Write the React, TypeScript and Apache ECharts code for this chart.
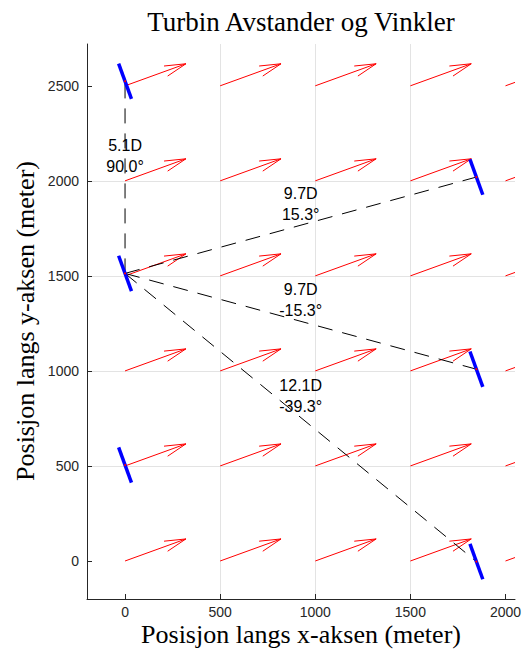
import React, { useEffect, useRef } from 'react';
import * as echarts from 'echarts';

// Axis ticks
const xTicks = [0, 500, 1000, 1500, 2000];
const yTicks = [0, 500, 1000, 1500, 2000, 2500];

// Wind field (quiver) grid and vector
const windX = [0, 500, 1000, 1500, 2000];
const windY = [0, 500, 1000, 1500, 2000, 2500];
const windU = 320;
const windV = 116;

// Turbines (hub positions, metres) and rotor diameter
const turbineX = [0, 0, 0, 1847, 1847, 1847];
const turbineY = [505, 1513, 2524, 2020, 1009, -3];
const rotorD = 198;

// Links between turbines with labels
const linkFrom = [1, 1, 1, 1];
const linkTo = [2, 3, 4, 5];
const linkDist = ['5.1D', '9.7D', '9.7D', '12.1D'];
const linkAngle = ['90.0°', '15.3°', '-15.3°', '-39.3°'];

const SANS = '"Liberation Sans", Arial, Helvetica, sans-serif';
const SERIF = '"Liberation Serif", "Times New Roman", serif';
const AXIS_COLOR = '#262626';

export default function App() {
  const ref = useRef<HTMLDivElement>(null);

  useEffect(() => {
    if (!ref.current) return;
    const chart = echarts.init(ref.current, undefined, { renderer: 'svg' });

    const arrowData: number[][] = [];
    windX.forEach((x) => windY.forEach((y) => arrowData.push([x, y, windU, windV])));
    const turbineData = turbineX.map((x, i) => [x, turbineY[i]]);
    const linkData = linkFrom.map((f, i) => [
      turbineX[f], turbineY[f], turbineX[linkTo[i]], turbineY[linkTo[i]], i,
    ]);
    const windAng = Math.atan2(windV, windU);
    const rx = (rotorD / 2) * Math.sin(windAng);
    const ry = -(rotorD / 2) * Math.cos(windAng);
    const plain = (v: number) => String(v);

    const option: any = {
      animation: false,
      grid: { left: 87, right: 8, top: 44, bottom: 55, outerBoundsMode: 'none' },
      xAxis: {
        type: 'value',
        min: -200,
        max: 2050,
        splitNumber: 5,
        axisLine: { show: true, onZero: false, lineStyle: { color: AXIS_COLOR, width: 1 } },
        axisTick: { show: true, inside: true, length: 5, customValues: xTicks, lineStyle: { color: AXIS_COLOR } },
        axisLabel: {
          customValues: xTicks, formatter: plain, color: AXIS_COLOR, fontSize: 14, fontFamily: SANS, margin: 6,
        },
        splitLine: { show: true, showMinLine: false, showMaxLine: false, lineStyle: { color: '#e3e3e3', width: 1 } },
      },
      yAxis: {
        type: 'value',
        min: -200,
        max: 2720,
        splitNumber: 6,
        axisLine: { show: true, onZero: false, lineStyle: { color: AXIS_COLOR, width: 1 } },
        axisTick: { show: true, inside: true, length: 5, customValues: yTicks, lineStyle: { color: AXIS_COLOR } },
        axisLabel: {
          customValues: yTicks, formatter: plain, color: AXIS_COLOR, fontSize: 14, fontFamily: SANS, margin: 8,
        },
        splitLine: { show: true, showMinLine: false, showMaxLine: false, lineStyle: { color: '#e3e3e3', width: 1 } },
      },
      graphic: [
        {
          type: 'text', x: 301, y: 22, z: 100,
          style: {
            text: 'Turbin Avstander og Vinkler', fontFamily: SERIF, fontSize: 27,
            fill: '#000', textAlign: 'center', textVerticalAlign: 'middle',
          },
        },
        {
          type: 'text', x: 301, y: 634, z: 100,
          style: {
            text: 'Posisjon langs x-aksen (meter)', fontFamily: SERIF, fontSize: 26,
            fill: '#000', textAlign: 'center', textVerticalAlign: 'middle',
          },
        },
        {
          type: 'text', x: 25, y: 321, rotation: Math.PI / 2, z: 100,
          style: {
            text: 'Posisjon langs y-aksen (meter)', fontFamily: SERIF, fontSize: 26,
            fill: '#000', textAlign: 'center', textVerticalAlign: 'middle',
          },
        },
      ],
      series: [
        {
          type: 'custom',
          name: 'wind',
          clip: true,
          z: 2,
          data: arrowData,
          renderItem: (params: any, api: any) => {
            const x = api.value(0), y = api.value(1), u = api.value(2), v = api.value(3);
            const p0 = api.coord([x, y]);
            const p1 = api.coord([x + u, y + v]);
            const dx = p1[0] - p0[0], dy = p1[1] - p0[1];
            const len = Math.hypot(dx, dy);
            const bx = -dx / len, by = -dy / len;
            const hl = len * 0.34;
            const a = 0.245;
            const c = Math.cos(a), s = Math.sin(a);
            const h1 = [p1[0] + hl * (bx * c - by * s), p1[1] + hl * (bx * s + by * c)];
            const h2 = [p1[0] + hl * (bx * c + by * s), p1[1] + hl * (-bx * s + by * c)];
            const st = { stroke: '#ff0000', lineWidth: 1, fill: null };
            return {
              type: 'group',
              children: [
                { type: 'line', shape: { x1: p0[0], y1: p0[1], x2: p1[0], y2: p1[1] }, style: st },
                { type: 'polyline', shape: { points: [h1, p1, h2] }, style: st },
              ],
            };
          },
        },
        {
          type: 'custom',
          name: 'links',
          clip: true,
          z: 3,
          data: linkData,
          renderItem: (params: any, api: any) => {
            const a = api.coord([api.value(0), api.value(1)]);
            const b = api.coord([api.value(2), api.value(3)]);
            return {
              type: 'line',
              shape: { x1: a[0], y1: a[1], x2: b[0], y2: b[1] },
              style: { stroke: '#000', lineWidth: 1, lineDash: [15, 10], fill: null },
            };
          },
        },
        {
          type: 'custom',
          name: 'rotors',
          z: 4,
          data: turbineData,
          renderItem: (params: any, api: any) => {
            const x = api.value(0), y = api.value(1);
            const a = api.coord([x - rx, y - ry]);
            const b = api.coord([x + rx, y + ry]);
            const c = api.coord([x, y]);
            return {
              type: 'group',
              children: [
                {
                  type: 'line',
                  shape: { x1: a[0], y1: a[1], x2: b[0], y2: b[1] },
                  style: { stroke: '#0000ff', lineWidth: 3.5, fill: null },
                },
                {
                  type: 'circle',
                  shape: { cx: c[0], cy: c[1], r: 1 },
                  style: { fill: '#ff0000' },
                },
              ],
            };
          },
        },
        {
          type: 'custom',
          name: 'labels',
          z: 5,
          data: linkData,
          renderItem: (params: any, api: any) => {
            const i = api.value(4);
            const m = api.coord([
              (api.value(0) + api.value(2)) / 2,
              (api.value(1) + api.value(3)) / 2,
            ]);
            return {
              type: 'text',
              x: m[0],
              y: m[1],
              style: {
                text: linkDist[i] + '\n' + linkAngle[i],
                fontFamily: SANS,
                fontSize: 16,
                lineHeight: 21,
                fill: '#000',
                textAlign: 'center',
                textVerticalAlign: 'bottom',
              },
            };
          },
        },
      ],
    };

    chart.setOption(option);
    return () => chart.dispose();
  }, []);

  return (
    <div
      ref={ref}
      style={{ position: 'absolute', left: 0, top: 0, width: 523, height: 654, background: '#fff' }}
    />
  );
}
